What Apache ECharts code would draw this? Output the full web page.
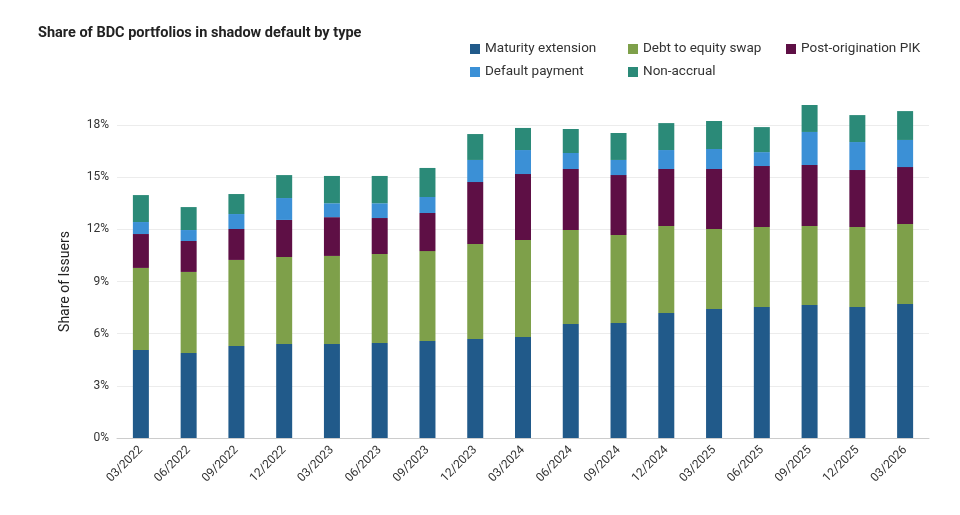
<!DOCTYPE html>
<html><head><meta charset="utf-8">
<script src="https://cdn.jsdelivr.net/npm/echarts@6/dist/echarts.min.js"></script>
<style>html,body{margin:0;padding:0;background:#fff}#c{width:960px;height:515px}</style>
</head><body><div id="c"></div>
<script>
const categories=["03/2022","06/2022","09/2022","12/2022","03/2023","06/2023","09/2023","12/2023","03/2024","06/2024","09/2024","12/2024","03/2025","06/2025","09/2025","12/2025","03/2026"];
const maturityExtension=[5.06,4.89,5.29,5.40,5.40,5.46,5.58,5.69,5.81,6.56,6.61,7.19,7.42,7.53,7.65,7.53,7.71];
const debtToEquity=[4.72,4.66,4.95,5.01,5.07,5.12,5.17,5.47,5.58,5.40,5.06,5.00,4.60,4.60,4.54,4.60,4.60];
const postOriginationPIK=[1.95,1.78,1.78,2.13,2.23,2.07,2.19,3.56,3.79,3.51,3.45,3.28,3.45,3.51,3.51,3.28,3.27];
const defaultPayment=[0.69,0.63,0.86,1.26,0.80,0.85,0.92,1.27,1.38,0.92,0.87,1.09,1.15,0.80,1.90,1.61,1.56];
const nonAccrual=[1.55,1.32,1.15,1.32,1.57,1.57,1.67,1.49,1.27,1.38,1.55,1.55,1.61,1.44,1.55,1.55,1.66];
const yTicks=[0,3,6,9,12,15,18];
const names=["Maturity extension","Debt to equity swap","Post-origination PIK","Default payment","Non-accrual"];
const colors=["#215a8a","#7ea04a","#5e0f45","#3b90d6","#2b8a78"];
const vals=[maturityExtension,debtToEquity,postOriginationPIK,defaultPayment,nonAccrual];
const font="Roboto";
const lg=(left,data)=>({left,top:37,orient:'vertical',data,itemWidth:10,itemHeight:10,itemGap:9,icon:'rect',
  textStyle:{fontFamily:font,fontSize:13.5,color:'#333'}});
const chart=echarts.init(document.getElementById('c'));
chart.setOption({
  animation:false,
  textStyle:{fontFamily:font},
  title:{text:'Share of BDC portfolios in shadow default by type',left:33,top:21,
    textStyle:{fontFamily:font,fontSize:14.5,fontWeight:'bold',color:'#222'}},
  legend:[lg(465,[names[0],names[3]]),lg(623,[names[1],names[4]]),lg(781,[names[2]])],
  grid:{left:117,right:31,top:125,bottom:77},
  xAxis:{type:'category',data:categories,axisTick:{show:false},
    axisLine:{lineStyle:{color:'#ccc'}},
    axisLabel:{rotate:45,fontFamily:font,fontSize:12,color:'#333',margin:10}},
  yAxis:{type:'value',min:0,max:18,interval:3,name:'Share of Issuers',nameLocation:'middle',nameGap:45,
    nameTextStyle:{fontFamily:font,fontSize:14,color:'#222'},
    axisLabel:{fontFamily:font,fontSize:12,color:'#333',formatter:v=>yTicks.includes(v)?v+'%':''},
    splitLine:{lineStyle:{color:'#ececec'}},axisLine:{show:false},axisTick:{show:false}},
  series:names.map((n,i)=>({name:n,type:'bar',stack:'s',clip:false,data:vals[i],barWidth:16,itemStyle:{color:colors[i]}}))
});
</script></body></html>
